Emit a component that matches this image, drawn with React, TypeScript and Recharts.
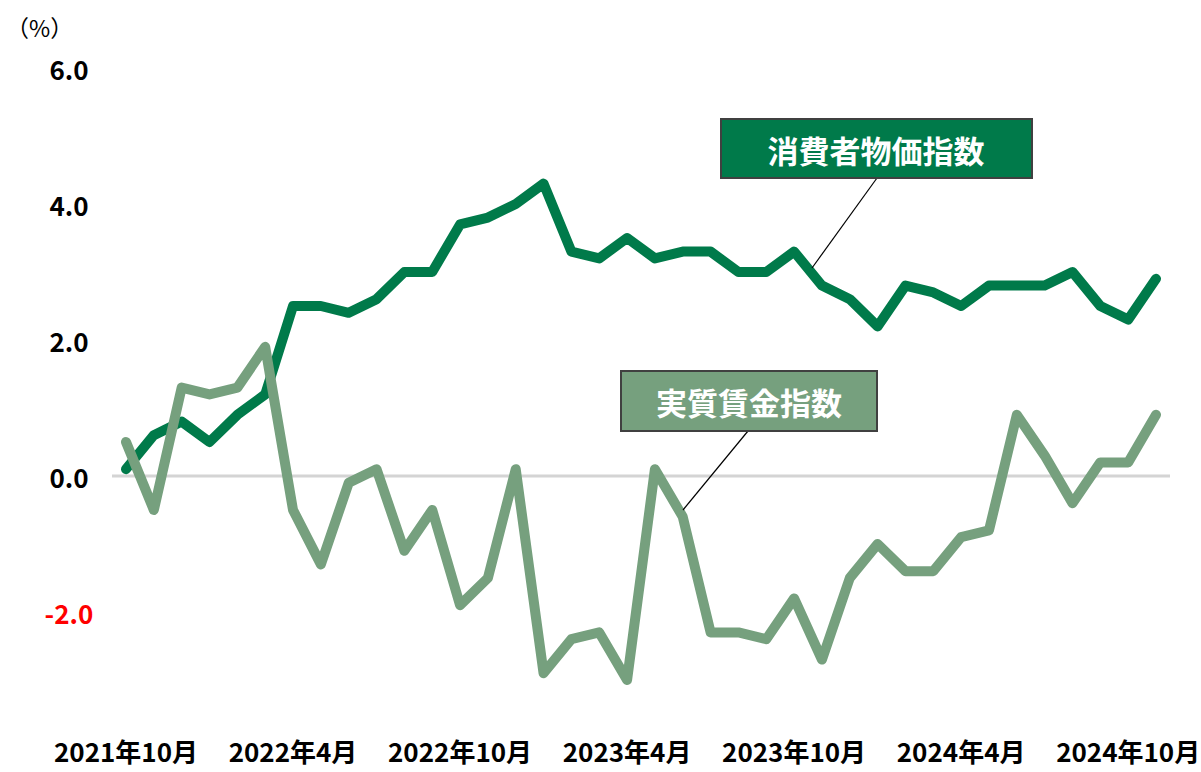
import React from 'react';
import { LineChart, Line, XAxis, YAxis, ReferenceLine } from 'recharts';

const months = [
  '2021年10月', '2021年11月', '2021年12月',
  '2022年1月', '2022年2月', '2022年3月', '2022年4月', '2022年5月', '2022年6月',
  '2022年7月', '2022年8月', '2022年9月', '2022年10月', '2022年11月', '2022年12月',
  '2023年1月', '2023年2月', '2023年3月', '2023年4月', '2023年5月', '2023年6月',
  '2023年7月', '2023年8月', '2023年9月', '2023年10月', '2023年11月', '2023年12月',
  '2024年1月', '2024年2月', '2024年3月', '2024年4月', '2024年5月', '2024年6月',
  '2024年7月', '2024年8月', '2024年9月', '2024年10月', '2024年11月',
];

// 消費者物価指数（前年同月比, %）
const cpi = [
  0.1, 0.6, 0.8, 0.5, 0.9, 1.2, 2.5, 2.5, 2.4, 2.6, 3.0, 3.0, 3.7, 3.8, 4.0,
  4.3, 3.3, 3.2, 3.5, 3.2, 3.3, 3.3, 3.0, 3.0, 3.3, 2.8, 2.6, 2.2, 2.8, 2.7,
  2.5, 2.8, 2.8, 2.8, 3.0, 2.5, 2.3, 2.9,
];

// 実質賃金指数（前年同月比, %）
const realWage = [
  0.5, -0.5, 1.3, 1.2, 1.3, 1.9, -0.5, -1.3, -0.1, 0.1, -1.1, -0.5, -1.9, -1.5, 0.1,
  -2.9, -2.4, -2.3, -3.0, 0.1, -0.6, -2.3, -2.3, -2.4, -1.8, -2.7, -1.5, -1.0, -1.4, -1.4,
  -0.9, -0.8, 0.9, 0.3, -0.4, 0.2, 0.2, 0.9,
];

const yTicks = [-2, 0, 2, 4, 6];

const CPI_COLOR = '#007A4A';
const WAGE_COLOR = '#76A07E';
const FONT = '"Noto Sans CJK JP", "Noto Sans", sans-serif';

const data = months.map((m, i) => ({ month: m, cpi: cpi[i], wage: realWage[i] }));

function YTick(props: any) {
  const { y, payload } = props;
  const v = Number(payload.value);
  return (
    <text x={69} y={y} textAnchor="middle" dominantBaseline="central"
      fontFamily={FONT} fontWeight={700} fontSize={26} fill={v < 0 ? '#FF0000' : '#000'}>
      {v.toFixed(1)}
    </text>
  );
}

function XTick(props: any) {
  const { x, payload } = props;
  return (
    <text x={x} y={762} textAnchor="middle" fontFamily={FONT} fontWeight={700} fontSize={26} fill="#000">
      {payload.value}
    </text>
  );
}

export default function App() {
  return (
    <div style={{ position: 'absolute', left: 0, top: 0, width: 1201, height: 772, background: '#fff', fontFamily: FONT }}>
      <LineChart width={1201} height={772} data={data} margin={{ top: 68, right: 31, bottom: 0, left: 0 }}>
        <XAxis dataKey="month" interval={5} axisLine={false} tickLine={false} height={24}
          padding={{ left: 14, right: 14 }} tick={<XTick />} />
        <YAxis domain={[-4, 6]} ticks={yTicks} width={112} axisLine={false} tickLine={false} tick={<YTick />} />
        <ReferenceLine y={0} stroke="#D4D4D4" strokeWidth={3} />
        <Line dataKey="cpi" stroke={CPI_COLOR} strokeWidth={10} dot={false}
          strokeLinejoin="round" strokeLinecap="round" isAnimationActive={false} />
        <Line dataKey="wage" stroke={WAGE_COLOR} strokeWidth={10} dot={false}
          strokeLinejoin="round" strokeLinecap="round" isAnimationActive={false} />
      </LineChart>

      <svg width={1201} height={772} style={{ position: 'absolute', left: 0, top: 0, pointerEvents: 'none' }}>
        <text x={6} y={27} dominantBaseline="central" fontFamily={FONT} fontSize={23} fill="#000">（%）</text>

        <line x1={877} y1={178} x2={812} y2={268} stroke="#000" strokeWidth={1.2} />
        <rect x={721} y={119} width={311} height={59} fill={CPI_COLOR} stroke="#404040" strokeWidth={2} />
        <text x={876} y={149} textAnchor="middle" dominantBaseline="central"
          fontFamily={FONT} fontWeight={700} fontSize={31} fill="#fff">消費者物価指数</text>

        <line x1={748} y1={431} x2={683} y2={510} stroke="#000" strokeWidth={1.2} />
        <rect x={621} y={371} width={256} height={60} fill={WAGE_COLOR} stroke="#404040" strokeWidth={2} />
        <text x={749} y={401} textAnchor="middle" dominantBaseline="central"
          fontFamily={FONT} fontWeight={700} fontSize={31} fill="#fff">実質賃金指数</text>
      </svg>
    </div>
  );
}
